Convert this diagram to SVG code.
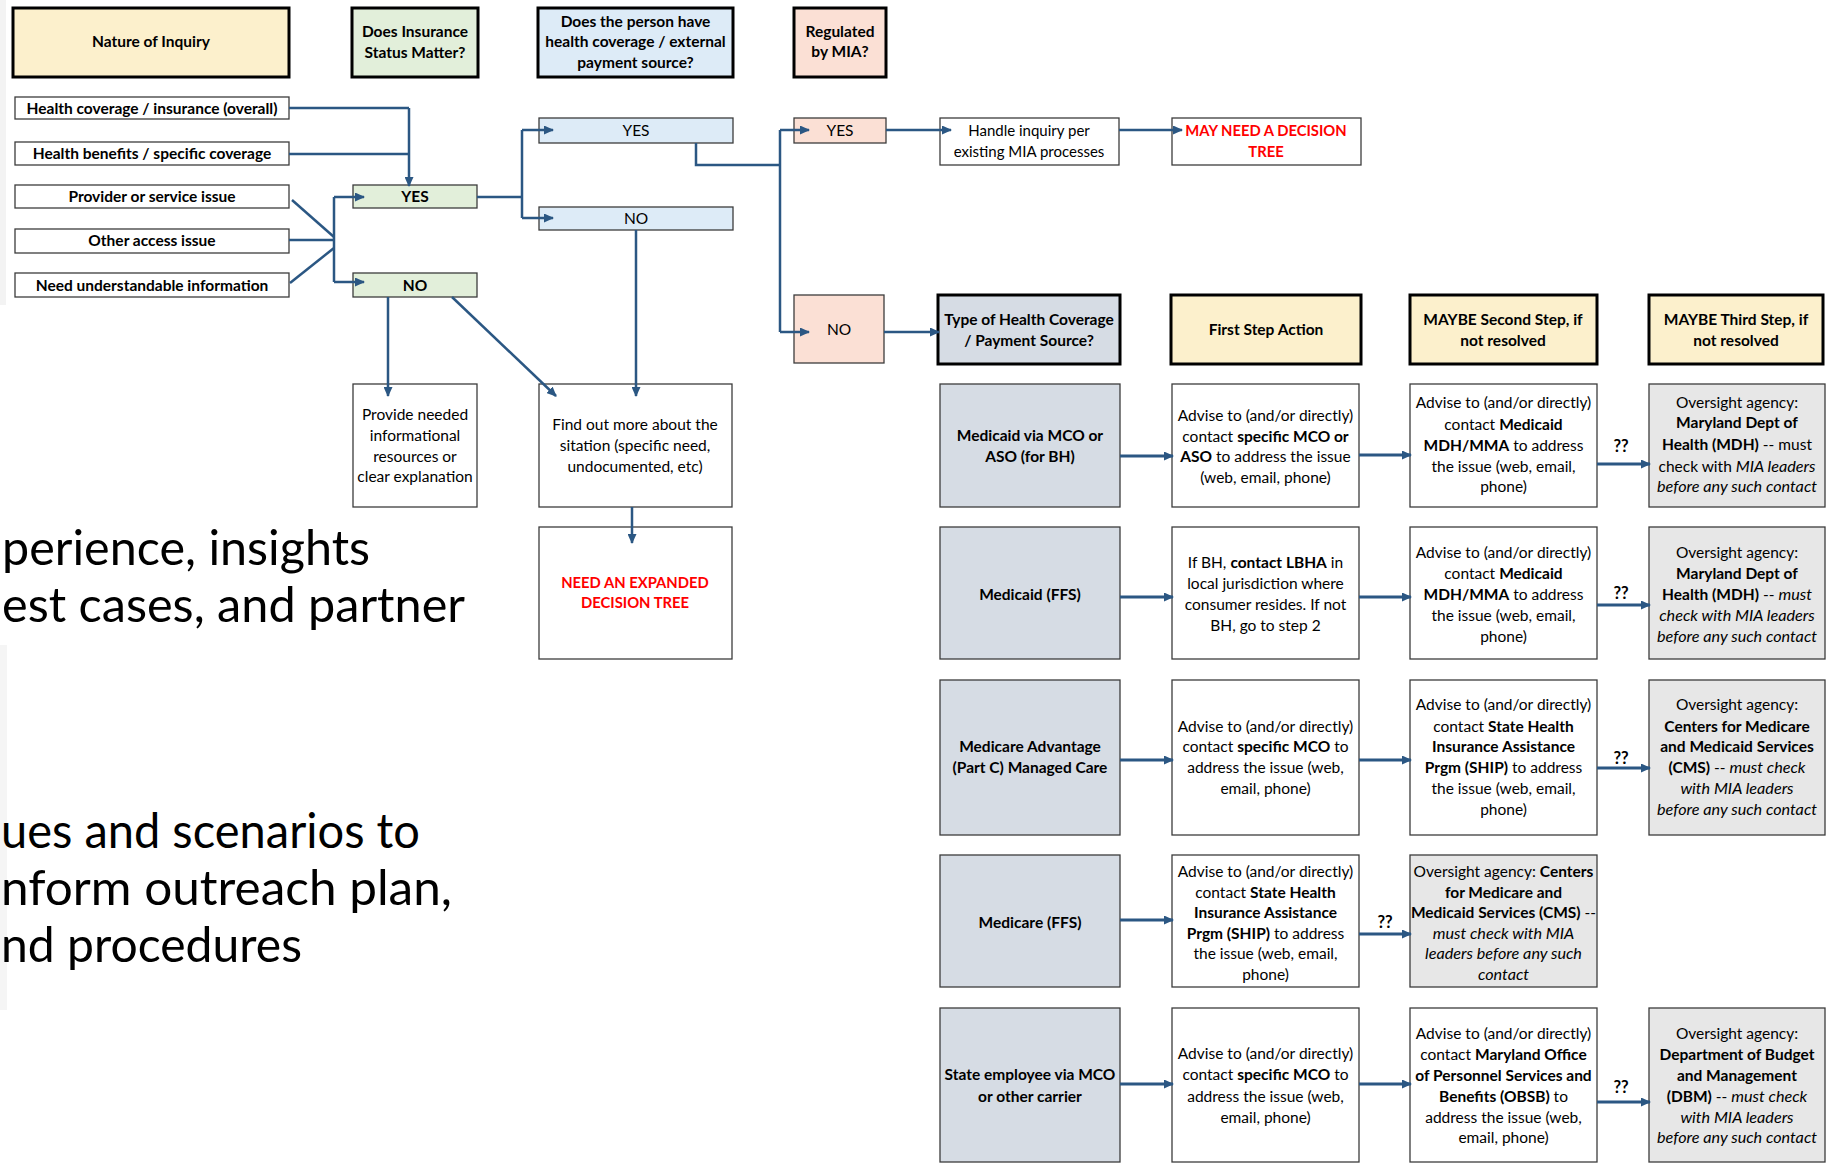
<svg xmlns="http://www.w3.org/2000/svg" width="1832" height="1163" viewBox="0 0 1832 1163">
<style>
.t{font-family:Lato,"Liberation Sans",sans-serif;font-size:15.5px;fill:#000;text-anchor:middle}
.s{font-size:15px}
.b{font-weight:bold}
.i{font-style:italic;font-size:16.2px}
.red{fill:#FF0000;font-weight:bold;font-size:14.8px}
.q{font-size:16.5px;font-weight:bold}
.big{font-family:Lato,"Liberation Sans",sans-serif;font-size:49px;fill:#000}
.h{stroke:#000;stroke-width:3}
.n{stroke:#3c3c3c;stroke-width:1.3}
.yel{fill:#FCF0CC}
.grn{fill:#E2EFDA}
.blu{fill:#DDEBF7}
.pnk{fill:#FBE0D5}
.sl{fill:#D6DCE4}
.wht{fill:#FFFFFF}
.ov{fill:#E7E7E7}
.c{fill:none;stroke:#2B5783;stroke-width:2.5}
.ca{fill:none;stroke:#2B5783;stroke-width:2.5;marker-end:url(#ah)}
.cr{fill:none;stroke:#2B5783;stroke-width:3;marker-end:url(#ah)}
</style>
<defs>
<marker id="ah" markerUnits="userSpaceOnUse" markerWidth="10" markerHeight="9" refX="9" refY="4.5" orient="auto">
<path d="M0,0 L10,4.5 L0,9 z" fill="#2B5783"/>
</marker>
</defs>
<rect width="1832" height="1163" fill="#FFFFFF"/>
<rect x="0" y="0" width="6" height="305" fill="#F3F3F3"/>
<rect x="0" y="645" width="7" height="365" fill="#F5F5F5"/>

<g id="background-text">
<text class="big" x="2" y="565" textLength="368" lengthAdjust="spacingAndGlyphs">perience, insights</text>
<text class="big" x="2" y="622" textLength="463" lengthAdjust="spacingAndGlyphs">est cases, and partner</text>
<text class="big" x="1" y="848" textLength="419" lengthAdjust="spacingAndGlyphs">ues and scenarios to</text>
<text class="big" x="1" y="905" textLength="451" lengthAdjust="spacingAndGlyphs">nform outreach plan,</text>
<text class="big" x="1" y="962" textLength="301" lengthAdjust="spacingAndGlyphs">nd procedures</text>
</g>

<g id="hdr-nature"><rect class="h yel" x="13" y="8" width="276" height="69"/><text class="t b" x="151" y="47">Nature of Inquiry</text></g>
<g id="hdr-insurance"><rect class="h grn" x="352" y="8" width="126" height="69"/><text class="t b" x="415" y="37">Does Insurance</text><text class="t b" x="415" y="58">Status Matter?</text></g>
<g id="hdr-coverage"><rect class="h blu" x="538" y="8" width="195" height="69"/><text class="t b" x="635.5" y="27">Does the person have</text><text class="t b" x="635.5" y="47">health coverage / external</text><text class="t b" x="635.5" y="68">payment source?</text></g>
<g id="hdr-mia"><rect class="h pnk" x="794" y="8" width="92" height="69"/><text class="t b" x="840" y="37">Regulated</text><text class="t b" x="840" y="57">by MIA?</text></g>

<g id="inq-1"><rect class="n wht" x="15" y="97" width="274" height="22"/><text class="t b" x="152" y="113.5">Health coverage / insurance (overall)</text></g>
<g id="inq-2"><rect class="n wht" x="15" y="142" width="274" height="23"/><text class="t b" x="152" y="159">Health benefits / specific coverage</text></g>
<g id="inq-3"><rect class="n wht" x="15" y="185" width="274" height="23"/><text class="t b" x="152" y="202">Provider or service issue</text></g>
<g id="inq-4"><rect class="n wht" x="15" y="229" width="274" height="24"/><text class="t b" x="152" y="246">Other access issue</text></g>
<g id="inq-5"><rect class="n wht" x="15" y="273" width="274" height="24"/><text class="t b" x="152" y="290.5">Need understandable information</text></g>

<g id="ins-yes"><rect class="n grn" x="353" y="185" width="124" height="23"/><text class="t b" x="415" y="202">YES</text></g>
<g id="ins-no"><rect class="n grn" x="353" y="273" width="124" height="24"/><text class="t b" x="415" y="290.5">NO</text></g>
<g id="cov-yes"><rect class="n blu" x="539" y="118" width="194" height="25"/><text class="t" x="636" y="136">YES</text></g>
<g id="cov-no"><rect class="n blu" x="539" y="207" width="194" height="23"/><text class="t" x="636" y="224">NO</text></g>
<g id="mia-yes"><rect class="n pnk" x="794" y="118" width="92" height="25"/><text class="t" x="840" y="136">YES</text></g>
<g id="mia-no"><rect class="n pnk" x="794" y="295" width="90" height="68"/><text class="t" x="839" y="334.5">NO</text></g>

<g id="handle"><rect class="n wht" x="940" y="118" width="179" height="47"/><text class="t s" x="1029" y="136">Handle inquiry per</text><text class="t s" x="1029" y="157">existing MIA processes</text></g>
<g id="may-need"><rect class="n wht" x="1172" y="118" width="189" height="47"/><text class="t red" x="1266" y="136">MAY NEED A DECISION</text><text class="t red" x="1266" y="157">TREE</text></g>

<g id="provide"><rect class="n wht" x="353" y="384" width="124" height="123"/><text class="t" x="415" y="420">Provide needed</text><text class="t" x="415" y="441">informational</text><text class="t" x="415" y="462">resources or</text><text class="t" x="415" y="482">clear explanation</text></g>
<g id="find-out"><rect class="n wht" x="539" y="384" width="193" height="123"/><text class="t" x="635" y="430">Find out more about the</text><text class="t" x="635" y="451">sitation (specific need,</text><text class="t" x="635" y="472">undocumented, etc)</text></g>
<g id="need-expanded"><rect class="n wht" x="539" y="527" width="193" height="132"/><text class="t red" x="635" y="588">NEED AN EXPANDED</text><text class="t red" x="635" y="608">DECISION TREE</text></g>

<g id="hdr-type"><rect class="h sl" x="938" y="295" width="182" height="69"/><text class="t b" x="1029" y="325">Type of Health Coverage</text><text class="t b" x="1029" y="346">/ Payment Source?</text></g>
<g id="hdr-first"><rect class="h yel" x="1171" y="295" width="190" height="69"/><text class="t b" x="1266" y="335">First Step Action</text></g>
<g id="hdr-second"><rect class="h yel" x="1410" y="295" width="187" height="69"/><text class="t b" x="1503" y="325">MAYBE Second Step, if</text><text class="t b" x="1503" y="346">not resolved</text></g>
<g id="hdr-third"><rect class="h yel" x="1649" y="295" width="174" height="69"/><text class="t b" x="1736" y="325">MAYBE Third Step, if</text><text class="t b" x="1736" y="346">not resolved</text></g>

<g id="r1-type"><rect class="n sl" x="940" y="384" width="180" height="123"/><text class="t b" x="1030" y="441">Medicaid via MCO or</text><text class="t b" x="1030" y="462">ASO (for BH)</text></g>
<g id="r1-first"><rect class="n wht" x="1172" y="384" width="187" height="123"/><text class="t" x="1265.5" y="421">Advise to (and/or directly)</text><text class="t" x="1265.5" y="442">contact <tspan class="b">specific MCO or</tspan></text><text class="t" x="1265.5" y="462"><tspan class="b">ASO</tspan> to address the issue</text><text class="t" x="1265.5" y="483">(web, email, phone)</text></g>
<g id="r1-second"><rect class="n wht" x="1410" y="384" width="187" height="123"/><text class="t" x="1503.5" y="408">Advise to (and/or directly)</text><text class="t" x="1503.5" y="430">contact <tspan class="b">Medicaid</tspan></text><text class="t" x="1503.5" y="451"><tspan class="b">MDH/MMA</tspan> to address</text><text class="t" x="1503.5" y="472">the issue (web, email,</text><text class="t" x="1503.5" y="492">phone)</text></g>
<g id="r1-third"><rect class="n ov" x="1649" y="384" width="176" height="123"/><text class="t" x="1737" y="408">Oversight agency:</text><text class="t b" x="1737" y="428">Maryland Dept of</text><text class="t" x="1737" y="450"><tspan class="b">Health (MDH)</tspan> -- must</text><text class="t" x="1737" y="472">check with <tspan class="i">MIA leaders</tspan></text><text class="t i" x="1737" y="492">before any such contact</text></g>

<g id="r2-type"><rect class="n sl" x="940" y="527" width="180" height="132"/><text class="t b" x="1030" y="600">Medicaid (FFS)</text></g>
<g id="r2-first"><rect class="n wht" x="1172" y="527" width="187" height="132"/><text class="t" x="1265.5" y="568">If BH, <tspan class="b">contact LBHA</tspan> in</text><text class="t" x="1265.5" y="589">local jurisdiction where</text><text class="t" x="1265.5" y="610">consumer resides. If not</text><text class="t" x="1265.5" y="631">BH, go to step 2</text></g>
<g id="r2-second"><rect class="n wht" x="1410" y="527" width="187" height="132"/><text class="t" x="1503.5" y="558">Advise to (and/or directly)</text><text class="t" x="1503.5" y="579">contact <tspan class="b">Medicaid</tspan></text><text class="t" x="1503.5" y="600"><tspan class="b">MDH/MMA</tspan> to address</text><text class="t" x="1503.5" y="621">the issue (web, email,</text><text class="t" x="1503.5" y="642">phone)</text></g>
<g id="r2-third"><rect class="n ov" x="1649" y="527" width="176" height="132"/><text class="t" x="1737" y="558">Oversight agency:</text><text class="t b" x="1737" y="579">Maryland Dept of</text><text class="t" x="1737" y="600"><tspan class="b">Health (MDH)</tspan> --  <tspan class="i">must</tspan></text><text class="t i" x="1737" y="621">check with MIA leaders</text><text class="t i" x="1737" y="642">before any such contact</text></g>

<g id="r3-type"><rect class="n sl" x="940" y="680" width="180" height="155"/><text class="t b" x="1030" y="752">Medicare Advantage</text><text class="t b" x="1030" y="773">(Part C) Managed Care</text></g>
<g id="r3-first"><rect class="n wht" x="1172" y="680" width="187" height="155"/><text class="t" x="1265.5" y="732">Advise to (and/or directly)</text><text class="t" x="1265.5" y="752">contact <tspan class="b">specific MCO</tspan> to</text><text class="t" x="1265.5" y="773">address the issue (web,</text><text class="t" x="1265.5" y="794">email, phone)</text></g>
<g id="r3-second"><rect class="n wht" x="1410" y="680" width="187" height="155"/><text class="t" x="1503.5" y="710">Advise to (and/or directly)</text><text class="t" x="1503.5" y="732">contact <tspan class="b">State Health</tspan></text><text class="t b" x="1503.5" y="752">Insurance Assistance</text><text class="t" x="1503.5" y="773"><tspan class="b">Prgm (SHIP)</tspan> to address</text><text class="t" x="1503.5" y="794">the issue (web, email,</text><text class="t" x="1503.5" y="815">phone)</text></g>
<g id="r3-third"><rect class="n ov" x="1649" y="680" width="176" height="155"/><text class="t" x="1737" y="710">Oversight agency:</text><text class="t b" x="1737" y="732">Centers for Medicare</text><text class="t b" x="1737" y="752">and Medicaid Services</text><text class="t" x="1737" y="773"><tspan class="b">(CMS)</tspan> --  <tspan class="i">must check</tspan></text><text class="t i" x="1737" y="794">with MIA leaders</text><text class="t i" x="1737" y="815">before any such contact</text></g>

<g id="r4-type"><rect class="n sl" x="940" y="855" width="180" height="132"/><text class="t b" x="1030" y="928">Medicare (FFS)</text></g>
<g id="r4-first"><rect class="n wht" x="1172" y="855" width="187" height="132"/><text class="t" x="1265.5" y="877">Advise to (and/or directly)</text><text class="t" x="1265.5" y="897.5">contact <tspan class="b">State Health</tspan></text><text class="t b" x="1265.5" y="918">Insurance Assistance</text><text class="t" x="1265.5" y="938.5"><tspan class="b">Prgm (SHIP)</tspan> to address</text><text class="t" x="1265.5" y="959">the issue (web, email,</text><text class="t" x="1265.5" y="979.5">phone)</text></g>
<g id="r4-second"><rect class="n ov" x="1410" y="855" width="187" height="132"/><text class="t" x="1503.5" y="877">Oversight agency: <tspan class="b">Centers</tspan></text><text class="t b" x="1503.5" y="897.5">for Medicare and</text><text class="t" x="1503.5" y="918"><tspan class="b">Medicaid Services (CMS)</tspan> --</text><text class="t i" x="1503.5" y="938.5">must check with MIA</text><text class="t i" x="1503.5" y="959">leaders before any such</text><text class="t i" x="1503.5" y="979.5">contact</text></g>

<g id="r5-type"><rect class="n sl" x="940" y="1008" width="180" height="154"/><text class="t b" x="1030" y="1080">State employee via MCO</text><text class="t b" x="1030" y="1102">or other carrier</text></g>
<g id="r5-first"><rect class="n wht" x="1172" y="1008" width="187" height="154"/><text class="t" x="1265.5" y="1059">Advise to (and/or directly)</text><text class="t" x="1265.5" y="1080">contact <tspan class="b">specific MCO</tspan> to</text><text class="t" x="1265.5" y="1102">address the issue (web,</text><text class="t" x="1265.5" y="1123">email, phone)</text></g>
<g id="r5-second"><rect class="n wht" x="1410" y="1008" width="187" height="154"/><text class="t" x="1503.5" y="1039">Advise to (and/or directly)</text><text class="t" x="1503.5" y="1060">contact <tspan class="b">Maryland Office</tspan></text><text class="t b" x="1503.5" y="1081">of Personnel Services and</text><text class="t" x="1503.5" y="1102"><tspan class="b">Benefits (OBSB)</tspan> to</text><text class="t" x="1503.5" y="1123">address the issue (web,</text><text class="t" x="1503.5" y="1143">email, phone)</text></g>
<g id="r5-third"><rect class="n ov" x="1649" y="1008" width="176" height="154"/><text class="t" x="1737" y="1039">Oversight agency:</text><text class="t b" x="1737" y="1060">Department of Budget</text><text class="t b" x="1737" y="1081">and Management</text><text class="t" x="1737" y="1102"><tspan class="b">(DBM)</tspan> --  <tspan class="i">must check</tspan></text><text class="t i" x="1737" y="1123">with MIA leaders</text><text class="t i" x="1737" y="1143">before any such contact</text></g>

<g id="connectors">
<path class="c" d="M289,108 H409"/>
<path class="ca" d="M409,108 V186"/>
<path class="c" d="M289,154 H409"/>
<path class="c" d="M292,200 L334,237"/>
<path class="c" d="M289,240 H334"/>
<path class="c" d="M290,283 L334,248"/>
<path class="c" d="M334,197 V282"/>
<path class="ca" d="M334,197 H364"/>
<path class="ca" d="M334,282 H364"/>
<path class="c" d="M477,197 H522"/>
<path class="c" d="M522,130 V218"/>
<path class="ca" d="M522,130 H553"/>
<path class="ca" d="M522,218 H553"/>
<path class="c" d="M696,143 V165 H780"/>
<path class="c" d="M780,130 V332"/>
<path class="ca" d="M780,130 H809"/>
<path class="ca" d="M780,332 H809"/>
<path class="ca" d="M886,130 H951"/>
<path class="ca" d="M1119,130 H1182"/>
<path class="ca" d="M884,332 H939"/>
<path class="ca" d="M388,297 V396"/>
<path class="ca" d="M452,297 L556,396"/>
<path class="ca" d="M636,230 V396"/>
<path class="ca" d="M632,507 V543"/>
<path class="cr" d="M1120,456 H1173"/>
<path class="cr" d="M1359,455 H1411"/>
<path class="cr" d="M1597,464 H1650"/>
<path class="cr" d="M1120,597 H1173"/>
<path class="cr" d="M1359,597 H1411"/>
<path class="cr" d="M1597,605 H1650"/>
<path class="cr" d="M1120,760 H1173"/>
<path class="cr" d="M1359,760 H1411"/>
<path class="cr" d="M1597,768 H1650"/>
<path class="cr" d="M1120,920 H1173"/>
<path class="cr" d="M1359,934 H1411"/>
<path class="cr" d="M1120,1084 H1173"/>
<path class="cr" d="M1359,1084 H1411"/>
<path class="cr" d="M1597,1102 H1650"/>
<text class="t q" x="1621" y="452">??</text>
<text class="t q" x="1621" y="599">??</text>
<text class="t q" x="1621" y="764">??</text>
<text class="t q" x="1385" y="928">??</text>
<text class="t q" x="1621" y="1093">??</text>
</g>
</svg>
